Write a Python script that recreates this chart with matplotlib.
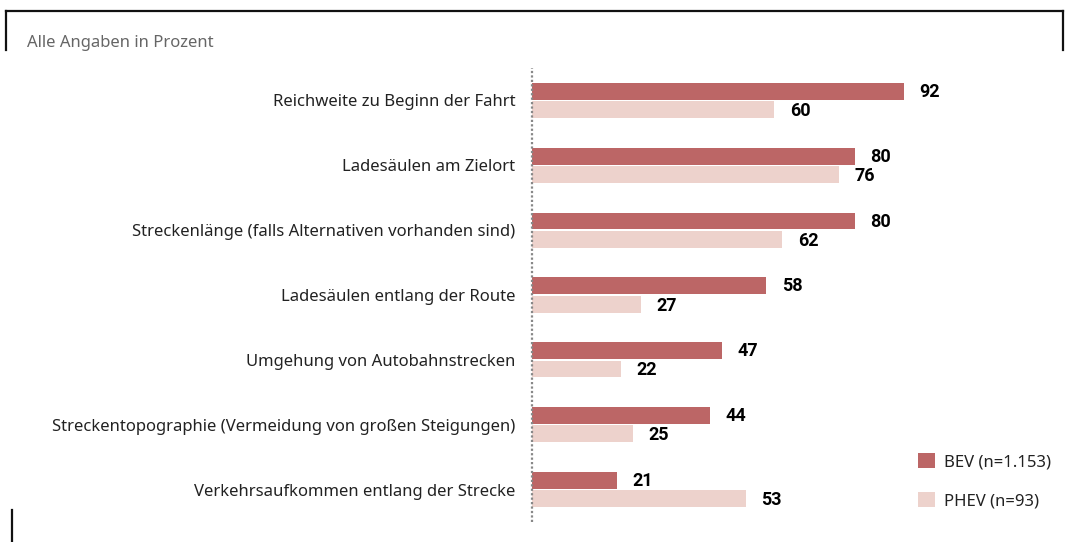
import matplotlib
matplotlib.use("Agg")
import matplotlib.pyplot as plt
from matplotlib.patches import Patch
from matplotlib.lines import Line2D

plt.rcParams['font.family'] = ['Noto Sans', 'DejaVu Sans']

categories = [
    "Reichweite zu Beginn der Fahrt",
    "Ladesäulen am Zielort",
    "Streckenlänge (falls Alternativen vorhanden sind)",
    "Ladesäulen entlang der Route",
    "Umgehung von Autobahnstrecken",
    "Streckentopographie (Vermeidung von großen Steigungen)",
    "Verkehrsaufkommen entlang der Strecke",
]
bev = [92, 80, 80, 58, 47, 44, 21]
phev = [60, 76, 62, 27, 22, 25, 53]
series_labels = ["BEV (n=1.153)", "PHEV (n=93)"]
colors = ["#BC6666", "#EDD2CC"]

W, H = 1066, 542
fig = plt.figure(figsize=(W / 100, H / 100), dpi=100)
ax = fig.add_axes([532 / W, 1 - 522 / H, 404 / W, (522 - 68) / H])

bar_h = 0.26
off = 0.142
ypos = list(range(len(categories)))
ax.barh([y - off for y in ypos], bev, height=bar_h, color=colors[0])
ax.barh([y + off for y in ypos], phev, height=bar_h, color=colors[1])

value_font = dict(fontsize=13, fontweight="bold", color="black",
                  family=["Roboto", "DejaVu Sans"])
for y, v in zip(ypos, bev):
    ax.text(v + 3.8, y - off + 0.01, str(v), va="center", ha="left", **value_font)
for y, v in zip(ypos, phev):
    ax.text(v + 3.8, y + off + 0.02, str(v), va="center", ha="left", **value_font)

ax.set_xlim(0, 100)
ax.set_ylim(6.5, -0.5)
ax.set_yticks(ypos)
ax.set_yticklabels(categories, fontsize=12, color="#222222")
ax.tick_params(axis="y", length=0, pad=12)
ax.set_xticks([])
for s in ax.spines.values():
    s.set_visible(False)
ax.axvline(0, color="#888888", linestyle=(0, (1, 1)), linewidth=1.6, clip_on=False)

handles = [Patch(facecolor=c, edgecolor="none") for c in colors]
fig.legend(handles, series_labels, loc="upper left",
           bbox_to_anchor=(918 / W, 1 - 453 / H), frameon=False,
           borderpad=0, borderaxespad=0,
           fontsize=12, handlelength=1.0, handleheight=1.0,
           handletextpad=0.55, labelspacing=1.3, labelcolor="#222222")

fig.text(27 / W, 1 - 43 / H, "Alle Angaben in Prozent", fontsize=12,
         color="#666666", va="center", ha="left")

# frame fragments
border = dict(color="#111111", linewidth=1.6, transform=fig.transFigure)
fig.add_artist(Line2D([6 / W, 1063 / W], [1 - 11 / H, 1 - 11 / H], **border))
fig.add_artist(Line2D([6 / W, 6 / W], [1 - 11 / H, 1 - 50 / H], **border))
fig.add_artist(Line2D([1063 / W, 1063 / W], [1 - 11 / H, 1 - 50 / H], **border))
fig.add_artist(Line2D([12 / W, 12 / W], [1 - 510 / H, 0], **border))

fig.savefig("out.png", dpi=100)
